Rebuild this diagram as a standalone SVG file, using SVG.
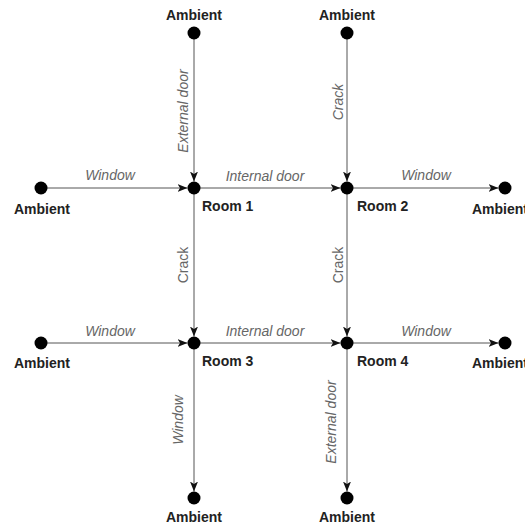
<svg xmlns="http://www.w3.org/2000/svg" width="525" height="528" viewBox="0 0 525 528">
  <style>
    .node { fill: #000; }
    .name { font-family: "Liberation Sans", Arial, sans-serif; font-size: 14px; font-weight: bold; fill: #222; }
    .edge { stroke: #555; stroke-width: 1; fill: none; }
    .lbl { font-family: "Liberation Sans", Arial, sans-serif; font-size: 14px; fill: #666; }
    .it { font-style: italic; }
    .mid { text-anchor: middle; }
  </style>
  <defs>
    <marker id="arrow" viewBox="0 0 10 8" refX="10" refY="4" markerWidth="10" markerHeight="8" markerUnits="userSpaceOnUse" orient="auto">
      <path d="M10,4 L0,0 L2.5,4 L0,8 Z" fill="#111"/>
    </marker>
  </defs>

  <!-- connectors -->
  <g id="connectors">
    <!-- horizontal flows, upper row -->
    <line class="edge" x1="47" y1="188" x2="187.5" y2="188" marker-end="url(#arrow)"/>
    <line class="edge" x1="200" y1="188" x2="340.5" y2="188" marker-end="url(#arrow)"/>
    <line class="edge" x1="353" y1="188" x2="498.5" y2="188" marker-end="url(#arrow)"/>
    <!-- horizontal flows, lower row -->
    <line class="edge" x1="47" y1="343" x2="187.5" y2="343" marker-end="url(#arrow)"/>
    <line class="edge" x1="200" y1="343" x2="340.5" y2="343" marker-end="url(#arrow)"/>
    <line class="edge" x1="353" y1="343" x2="498.5" y2="343" marker-end="url(#arrow)"/>
    <!-- vertical flows -->
    <line class="edge" x1="194" y1="39" x2="194" y2="181.5" marker-end="url(#arrow)"/>
    <line class="edge" x1="347" y1="39" x2="347" y2="181.5" marker-end="url(#arrow)"/>
    <line class="edge" x1="194" y1="194" x2="194" y2="336.5" marker-end="url(#arrow)"/>
    <line class="edge" x1="347" y1="194" x2="347" y2="336.5" marker-end="url(#arrow)"/>
    <line class="edge" x1="194" y1="349" x2="194" y2="491.5" marker-end="url(#arrow)"/>
    <line class="edge" x1="347" y1="349" x2="347" y2="491.5" marker-end="url(#arrow)"/>

    <!-- connector labels -->
    <text class="lbl it mid" x="110" y="180">Window</text>
    <text class="lbl it mid" x="265" y="181">Internal door</text>
    <text class="lbl it mid" x="426" y="180">Window</text>
    <text class="lbl it mid" x="110" y="336">Window</text>
    <text class="lbl it mid" x="265" y="336">Internal door</text>
    <text class="lbl it mid" x="426" y="336">Window</text>
    <text class="lbl it mid" x="188" y="111" transform="rotate(-90 188 111)">External door</text>
    <text class="lbl it mid" x="343" y="102" transform="rotate(-90 343 102)">Crack</text>
    <text class="lbl mid" x="188" y="265" transform="rotate(-90 188 265)">Crack</text>
    <text class="lbl mid" x="343" y="265" transform="rotate(-90 343 265)">Crack</text>
    <text class="lbl it mid" x="183" y="420" transform="rotate(-90 183 420)">Window</text>
    <text class="lbl it mid" x="336" y="422" transform="rotate(-90 336 422)">External door</text>
  </g>

  <!-- rooms -->
  <g id="room1"><circle class="node" cx="194" cy="188" r="6.5"/><text class="name" x="202" y="211">Room 1</text></g>
  <g id="room2"><circle class="node" cx="347" cy="188" r="6.5"/><text class="name" x="357" y="211">Room 2</text></g>
  <g id="room3"><circle class="node" cx="194" cy="343" r="6.5"/><text class="name" x="202" y="366">Room 3</text></g>
  <g id="room4"><circle class="node" cx="347" cy="343" r="6.5"/><text class="name" x="357" y="366">Room 4</text></g>

  <!-- ambient nodes -->
  <g id="ambient-top-1"><circle class="node" cx="194" cy="33" r="6.5"/><text class="name mid" x="194" y="20">Ambient</text></g>
  <g id="ambient-top-2"><circle class="node" cx="347" cy="33" r="6.5"/><text class="name mid" x="347" y="20">Ambient</text></g>
  <g id="ambient-left-1"><circle class="node" cx="41" cy="188" r="6.5"/><text class="name mid" x="42" y="214">Ambient</text></g>
  <g id="ambient-left-2"><circle class="node" cx="41" cy="343" r="6.5"/><text class="name mid" x="42" y="368">Ambient</text></g>
  <g id="ambient-right-1"><circle class="node" cx="505" cy="188" r="6.5"/><text class="name" x="472" y="214">Ambient</text></g>
  <g id="ambient-right-2"><circle class="node" cx="505" cy="343" r="6.5"/><text class="name" x="472" y="368">Ambient</text></g>
  <g id="ambient-bottom-1"><circle class="node" cx="194" cy="498" r="6.5"/><text class="name mid" x="194" y="522">Ambient</text></g>
  <g id="ambient-bottom-2"><circle class="node" cx="347" cy="498" r="6.5"/><text class="name mid" x="347" y="522">Ambient</text></g>
</svg>
